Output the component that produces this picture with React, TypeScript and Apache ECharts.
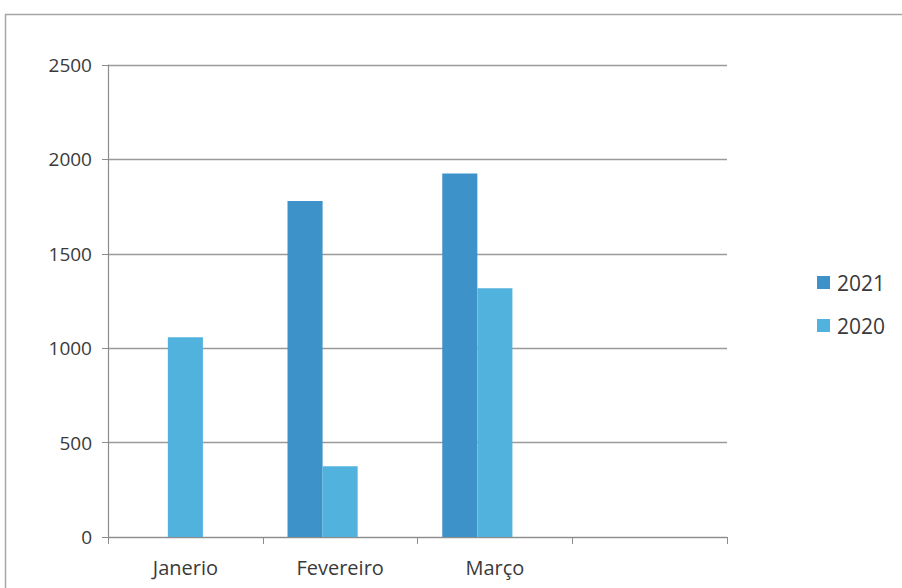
import React, { useEffect, useRef } from "react";
import * as echarts from "echarts";

const months = ["Janerio", "Fevereiro", "Março", ""];
const sales2021 = [null, 1780, 1925, null];
const sales2020 = [1058, 375, 1318, null];
// empty third column slot kept in each month group, as in the source sheet
const reserved = [null, null, null, null];
const yTicks = [0, 500, 1000, 1500, 2000, 2500];

const FONT = "'Open Sans', 'Noto Sans', sans-serif";
const TEXT = "#3a3a3a";

export default function App() {
  const ref = useRef<HTMLDivElement>(null);

  useEffect(() => {
    if (!ref.current) return;
    const chart = echarts.init(ref.current, undefined, { renderer: "svg" });
    chart.setOption({
      animation: false,
      backgroundColor: "#ffffff",
      graphic: [
        {
          type: "rect",
          shape: { x: 5.5, y: 14.5, width: 920, height: 600 },
          style: { fill: "none", stroke: "#a6a6a6", lineWidth: 1.5 },
          silent: true,
        },
      ],
      grid: { left: 108, right: 175, top: 65, bottom: 51 },
      legend: {
        orient: "vertical",
        left: 812,
        top: 267,
        itemWidth: 13,
        itemHeight: 13,
        itemGap: 22,
        icon: "rect",
        textStyle: { fontFamily: FONT, fontSize: 21, color: TEXT, padding: [0, 0, 0, 2] },
        data: ["2021", "2020"],
      },
      xAxis: {
        type: "category",
        data: months,
        axisLine: { lineStyle: { color: "#8c8c8c", width: 1.2 } },
        axisTick: { show: true, length: 7, lineStyle: { color: "#8c8c8c" } },
        axisLabel: { fontFamily: FONT, fontSize: 20, color: TEXT, margin: 20 },
      },
      yAxis: {
        type: "value",
        min: yTicks[0],
        max: yTicks[yTicks.length - 1],
        interval: yTicks[1] - yTicks[0],
        axisLine: { show: true, lineStyle: { color: "#8c8c8c", width: 1.2 } },
        axisTick: { show: true, length: 6, lineStyle: { color: "#8c8c8c" } },
        axisLabel: {
          fontFamily: FONT,
          fontSize: 19,
          color: TEXT,
          margin: 16,
          formatter: (v: number) => String(v),
        },
        splitLine: { lineStyle: { color: "#9a9a9a", width: 1.4 } },
      },
      series: [
        {
          name: "2021",
          type: "bar",
          data: sales2021,
          barGap: "0%",
          barCategoryGap: "32%",
          itemStyle: { color: "#3d93c9" },
        },
        {
          name: "2020",
          type: "bar",
          data: sales2020,
          itemStyle: { color: "#52b2de" },
        },
        {
          name: "reserved",
          type: "bar",
          data: reserved,
          itemStyle: { color: "#52b2de" },
        },
      ],
    });
    return () => chart.dispose();
  }, []);

  return (
    <div
      ref={ref}
      style={{ position: "fixed", left: 0, top: 0, width: 902, height: 588 }}
    />
  );
}
